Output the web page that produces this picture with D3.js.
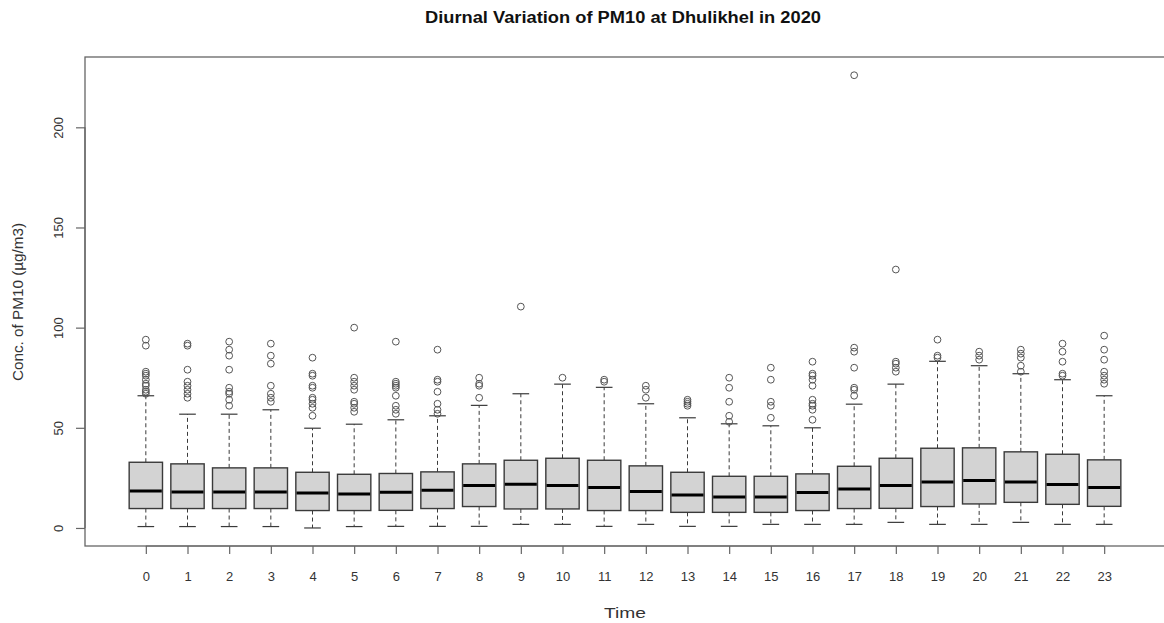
<!DOCTYPE html>
<html>
<head>
<meta charset="utf-8">
<script src="https://cdn.jsdelivr.net/npm/d3@7"></script>
<style>
  html, body { margin: 0; padding: 0; background: #fff; }
  svg { display: block; }
  text { font-family: "Liberation Sans", Arial, sans-serif; }
</style>
</head>
<body>
<svg id="chart" width="1164" height="623"></svg>
<script>
// ---- Data ----
const hours = [0,1,2,3,4,5,6,7,8,9,10,11,12,13,14,15,16,17,18,19,20,21,22,23];
const whiskerLow  = [0.7,0.7,0.7,0.7,0,0.7,0.8,0.8,0.8,1.8,1.8,0.8,1.8,0.8,0.8,1.8,1.8,1.8,2.8,1.8,1.8,2.8,1.8,1.8];
const q1          = [9.7,9.7,9.7,9.7,8.7,8.7,8.8,9.7,10.7,9.5,9.5,8.7,8.7,7.8,7.8,7.8,8.7,9.7,9.8,10.7,12,12.8,11.8,10.8];
const medians     = [18.5,18,18,18,17.5,17,17.8,18.8,21.2,21.8,21.2,20.2,18.2,16.5,15.5,15.5,17.7,19.5,21.2,23,23.7,23,21.7,20.2];
const q3          = [32.8,32,30,30,27.8,26.8,27.2,28,32,33.8,34.8,33.8,31,27.8,25.8,25.8,27,30.8,34.8,39.8,40,38,36.8,34];
const whiskerHigh = [66,56.8,56.8,59,49.8,51.8,54,56,61.2,67,71.8,70.2,62,55,52,51,50,61.8,71.8,83.2,81,77,74,66];
const outliers = [
  [94,91,78,77,76,74,72,71,69,68,67],
  [92,91,79,73,71,69,67,65],
  [93,89,86,79,70,68,67,64,61],
  [92,86,82,71,67,65,63],
  [85,77,76,71,70,65,64,62,60,56],
  [100,75,73,71,69,63,62,60,58],
  [93,73,72,71,70,66,61,59,57],
  [89,74,73,68,62,59,57],
  [75,72,71,65],
  [110.5],
  [75],
  [74,73],
  [71,69,65],
  [64,63,62,61],
  [75,70,63,56,53],
  [80,74,63,61,55],
  [83,77,76,74,71,64,62,61,59,54],
  [226,90,88,80,70,69,66],
  [129,83,82,80,78],
  [94,86,85],
  [88,86,84],
  [89,87,85,81,78],
  [92,88,83,77,76],
  [96,89,84,78,76,74,72]
];
const yTicks = [0,50,100,150,200];
const title = "Diurnal Variation of PM10 at Dhulikhel in 2020";
const xTitle = "Time";
const yTitle = "Conc. of PM10 (\u00b5g/m3)";

// ---- Layout ----
const plot = { left: 85, right: 1165, top: 57, bottom: 546 };
const svg = d3.select("#chart");

const x = d3.scaleLinear().domain([-1.46, 24.46]).range([plot.left, plot.right]);
const y = d3.scaleLinear().domain([-9, 235.1]).range([plot.bottom, plot.top]);
const step = x(1) - x(0);
const boxW = step * 0.8;
const capW = boxW * 0.5;

const lineCol = "#3a3a3a";

// Boxes
const g = svg.append("g");
const boxes = g.selectAll("g.box").data(hours).enter().append("g").attr("class", "box");

// whiskers (dashed)
boxes.append("line")
  .attr("x1", d => x(d)).attr("x2", d => x(d))
  .attr("y1", (d,i) => y(q3[i])).attr("y2", (d,i) => y(whiskerHigh[i]))
  .attr("stroke", lineCol).attr("stroke-width", 1).attr("stroke-dasharray", "4,3");
boxes.append("line")
  .attr("x1", d => x(d)).attr("x2", d => x(d))
  .attr("y1", (d,i) => y(q1[i])).attr("y2", (d,i) => y(whiskerLow[i]))
  .attr("stroke", lineCol).attr("stroke-width", 1).attr("stroke-dasharray", "4,3");
// caps
boxes.append("line")
  .attr("x1", d => x(d) - capW/2).attr("x2", d => x(d) + capW/2)
  .attr("y1", (d,i) => y(whiskerHigh[i])).attr("y2", (d,i) => y(whiskerHigh[i]))
  .attr("stroke", lineCol).attr("stroke-width", 1.2);
boxes.append("line")
  .attr("x1", d => x(d) - capW/2).attr("x2", d => x(d) + capW/2)
  .attr("y1", (d,i) => y(whiskerLow[i])).attr("y2", (d,i) => y(whiskerLow[i]))
  .attr("stroke", lineCol).attr("stroke-width", 1.2);
// box rect
boxes.append("rect")
  .attr("x", d => x(d) - boxW/2).attr("width", boxW)
  .attr("y", (d,i) => y(q3[i])).attr("height", (d,i) => y(q1[i]) - y(q3[i]))
  .attr("fill", "#d3d3d3").attr("stroke", lineCol).attr("stroke-width", 1.4);
// median
boxes.append("line")
  .attr("x1", d => x(d) - boxW/2 + 0.7).attr("x2", d => x(d) + boxW/2 - 0.7)
  .attr("y1", (d,i) => y(medians[i])).attr("y2", (d,i) => y(medians[i]))
  .attr("stroke", "#000").attr("stroke-width", 3);
// outliers
boxes.each(function(d, i) {
  d3.select(this).selectAll("circle").data(outliers[i]).enter().append("circle")
    .attr("cx", x(d)).attr("cy", v => y(v)).attr("r", 3.4)
    .attr("fill", "none").attr("stroke", "#555").attr("stroke-width", 1);
});

// Frame
svg.append("rect")
  .attr("x", plot.left).attr("y", plot.top)
  .attr("width", plot.right - plot.left).attr("height", plot.bottom - plot.top)
  .attr("fill", "none").attr("stroke", "#666").attr("stroke-width", 1.3);

// Y axis
const yAxis = d3.axisLeft(y).tickValues(yTicks).tickSize(9).tickPadding(4).tickFormat(d3.format("d"));
const ya = svg.append("g").attr("transform", `translate(${plot.left},0)`).call(yAxis);
ya.select(".domain").attr("d", `M0,${y(0)}V${y(200)}`).attr("stroke", "#666").attr("stroke-width", 1.2);
ya.selectAll(".tick line").attr("stroke", "#666").attr("stroke-width", 1.2);
ya.selectAll(".tick text")
  .attr("x", null).attr("dy", null)
  .attr("transform", "translate(-22,0) rotate(-90)")
  .attr("text-anchor", "middle")
  .attr("font-size", 13).attr("fill", "#333").attr("font-family", "Liberation Sans, Arial, sans-serif");

// X axis
const xAxis = d3.axisBottom(x).tickValues(hours).tickSize(8).tickPadding(18).tickFormat(d3.format("d"));
const xa = svg.append("g").attr("transform", `translate(0,${plot.bottom})`).call(xAxis);
xa.select(".domain").attr("d", `M${x(0)},0H${x(23)}`).attr("stroke", "#666").attr("stroke-width", 1.2);
xa.selectAll(".tick line").attr("stroke", "#666").attr("stroke-width", 1.2);
xa.selectAll(".tick text").attr("font-size", 13).attr("fill", "#333").attr("font-family", "Liberation Sans, Arial, sans-serif");

// Titles
svg.append("text").attr("x", (plot.left + plot.right) / 2 - 2).attr("y", 23)
  .attr("text-anchor", "middle").attr("font-weight", "bold").attr("font-size", 16).attr("fill", "#111")
  .attr("textLength", 396).attr("lengthAdjust", "spacingAndGlyphs")
  .text(title);
svg.append("text").attr("x", (plot.left + plot.right) / 2).attr("y", 618)
  .attr("text-anchor", "middle").attr("font-size", 14).attr("fill", "#333")
  .attr("textLength", 42).attr("lengthAdjust", "spacingAndGlyphs")
  .text(xTitle);
svg.append("text").attr("transform", `translate(23,302) rotate(-90)`)
  .attr("text-anchor", "middle").attr("font-size", 14).attr("fill", "#333")
  .attr("textLength", 158).attr("lengthAdjust", "spacingAndGlyphs")
  .text(yTitle);
</script>
</body>
</html>
